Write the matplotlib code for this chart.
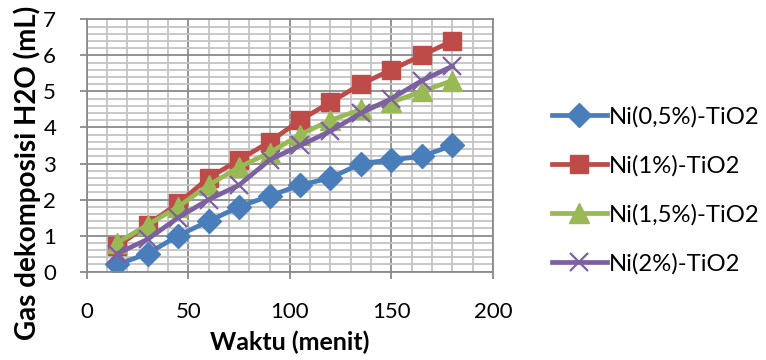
import matplotlib
matplotlib.use("Agg")
import matplotlib.pyplot as plt
from matplotlib.ticker import MultipleLocator

plt.rcParams['font.family'] = ['Lato', 'DejaVu Sans']

waktu = [15, 30, 45, 60, 75, 90, 105, 120, 135, 150, 165, 180]
ni_05 = [0.2, 0.5, 1.0, 1.4, 1.8, 2.1, 2.4, 2.6, 3.0, 3.1, 3.2, 3.5]
ni_1 = [0.7, 1.3, 1.9, 2.6, 3.1, 3.6, 4.2, 4.7, 5.2, 5.6, 6.0, 6.4]
ni_15 = [0.8, 1.3, 1.8, 2.4, 2.9, 3.3, 3.8, 4.2, 4.5, 4.7, 5.0, 5.3]
ni_2 = [0.5, 0.9, 1.5, 2.0, 2.4, 3.1, 3.5, 3.9, 4.4, 4.8, 5.3, 5.7]
labels = ["Ni(0,5%)-TiO2", "Ni(1%)-TiO2", "Ni(1,5%)-TiO2", "Ni(2%)-TiO2"]
x_ticks = [0, 50, 100, 150, 200]
y_ticks = [0, 1, 2, 3, 4, 5, 6, 7]

W, H = 766, 360
fig = plt.figure(figsize=(W / 100, H / 100), dpi=100)
ax = fig.add_axes([0.1132, 0.2453, 0.5304, 0.7011])

series = [
    (ni_05, "#4A7EBB", "D", 12.5),
    (ni_1, "#BE4B48", "s", 12.5),
    (ni_15, "#98B954", "^", 14),
    (ni_2, "#7D60A0", "x", 13),
]
handles = []
for (vals, col, mk, ms), lab in zip(series, labels):
    kw = dict(color=col, lw=3.4, marker=mk, markersize=ms, label=lab)
    if mk == "x":
        kw.update(markeredgewidth=1.6)
    else:
        kw.update(markeredgecolor=col)
    h, = ax.plot(waktu, vals, **kw)
    handles.append(h)

ax.set_xlim(0, 200)
ax.set_ylim(0, 7)
ax.set_xticks(x_ticks)
ax.set_yticks(y_ticks)
ax.xaxis.set_minor_locator(MultipleLocator(10))
ax.yaxis.set_minor_locator(MultipleLocator(0.2))
ax.grid(which="minor", color="#C4C4C4", lw=1.3)
ax.grid(which="major", color="#8A8A8A", lw=1.3)
ax.set_axisbelow(True)
ax.tick_params(which="minor", length=0)
ax.tick_params(which="major", length=5, width=1.3, color="#8A8A8A",
               labelsize=16)
ax.tick_params(axis="x", pad=17)
ax.tick_params(axis="y", pad=17)
for s in ax.spines.values():
    s.set_color("#8A8A8A")
    s.set_linewidth(1.3)

# axis titles placed in figure pixel coordinates
fig.text(290 / W, 1 - 342 / H, "Waktu (menit)", fontsize=18, fontweight="bold",
         ha="center", va="center")
fig.text(27 / W, 1 - 173 / H, "Gas dekomposisi H2O (mL)", fontsize=20,
         fontweight="bold", rotation=90, ha="center", va="center")

fig.legend(handles=handles, loc="upper left", bbox_to_anchor=(552 / W, 1 - 106 / H),
           frameon=False, fontsize=17.2, handlelength=2.3, handletextpad=0.08,
           labelspacing=1.15, borderaxespad=0, borderpad=0)

fig.savefig("out.png", dpi=100)
